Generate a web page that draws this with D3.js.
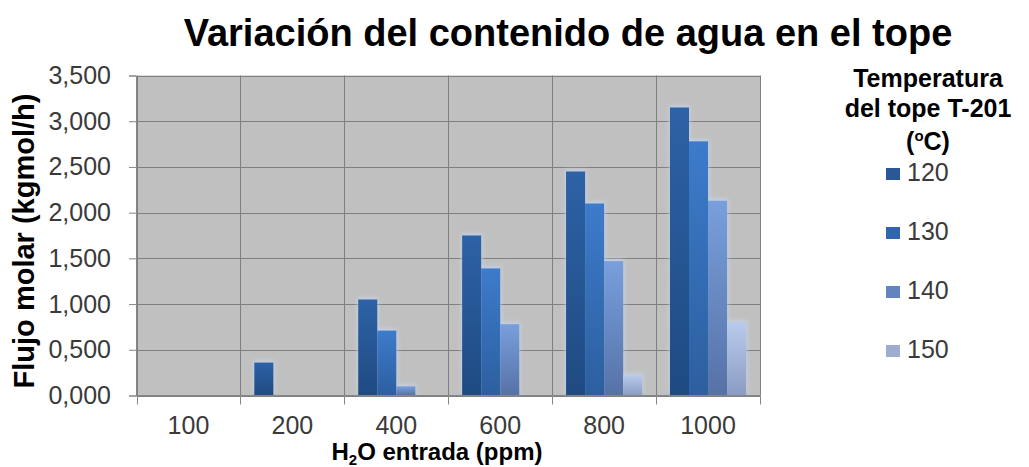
<!DOCTYPE html>
<html>
<head>
<meta charset="utf-8">
<script src="https://cdn.jsdelivr.net/npm/d3@7"></script>
<style>
  html, body { margin: 0; padding: 0; background: #ffffff; }
  svg { display: block; font-family: "Liberation Sans", Arial, sans-serif; }
</style>
</head>
<body>
<svg id="chart" width="1029" height="467"></svg>
<script>
// H2O inlet content (ppm) on the x axis
const categories = ["100", "200", "400", "600", "800", "1000"];
// Top temperature of column T-201 (°C), one series each
const seriesNames = ["120", "130", "140", "150"];
const flow120 = [0, 0.36, 1.05, 1.75, 2.45, 3.15];
const flow130 = [0, 0, 0.71, 1.39, 2.10, 2.78];
const flow140 = [0, 0, 0.10, 0.78, 1.47, 2.13];
const flow150 = [0, 0, 0, 0, 0.22, 0.80];
const yTicks = [0, 0.5, 1, 1.5, 2, 2.5, 3, 3.5];

const seriesValues = [flow120, flow130, flow140, flow150];
const rows = categories.map((c, i) => ({
  cat: c,
  vals: seriesNames.map((s, j) => ({ key: s, value: seriesValues[j][i] }))
}));

// Bar shading: top colour, bottom colour, legend swatch colour
const shades = {
  "120": ["#2d62a6", "#1f4a82", "#2a5796"],
  "130": ["#3d7bcb", "#2c5f9f", "#3066b0"],
  "140": ["#789fdc", "#5672a7", "#6384bf"],
  "150": ["#b8cbec", "#8a9cc2", "#9cadd0"]
};

const svg = d3.select("#chart");
const plot = { left: 136.5, right: 760, top: 75.5, bottom: 395.5 };

const x0 = d3.scaleBand().domain(categories).range([plot.left, plot.right]).padding(0);
const x1 = d3.scaleBand().domain(seriesNames).range([0, x0.bandwidth()])
  .paddingInner(0).paddingOuter(0.73);
const y = d3.scaleLinear().domain([0, 3.5]).range([plot.bottom, plot.top]);

const locale = d3.formatLocale({ decimal: ",", thousands: ".", grouping: [3], currency: ["", ""] });
const fmt = locale.format(".3f");

// gradients
const defs = svg.append("defs");
seriesNames.forEach(s => {
  const g = defs.append("linearGradient").attr("id", "grad" + s)
    .attr("x1", 0).attr("y1", 0).attr("x2", 0).attr("y2", 1);
  g.append("stop").attr("offset", "0%").attr("stop-color", shades[s][0]);
  g.append("stop").attr("offset", "100%").attr("stop-color", shades[s][1]);
});
defs.append("filter").attr("id", "glow").attr("x", "-50%").attr("y", "-50%")
  .attr("width", "200%").attr("height", "200%")
  .append("feGaussianBlur").attr("stdDeviation", 2.2);

// plot background
svg.append("rect")
  .attr("x", plot.left).attr("y", plot.top)
  .attr("width", plot.right - plot.left).attr("height", plot.bottom - plot.top)
  .attr("fill", "#c0c0c0");

// horizontal gridlines
svg.append("g").selectAll("line").data(yTicks).join("line")
  .attr("x1", plot.left).attr("x2", plot.right)
  .attr("y1", d => Math.round(y(d)) + 0.5).attr("y2", d => Math.round(y(d)) + 0.5)
  .attr("stroke", "#7f7f7f").attr("stroke-width", 1);

// vertical gridlines at category boundaries
const bounds = categories.map(c => x0(c)).concat([plot.right]);
svg.append("g").selectAll("line").data(bounds).join("line")
  .attr("x1", d => Math.round(d) + 0.5).attr("x2", d => Math.round(d) + 0.5)
  .attr("y1", plot.top).attr("y2", plot.bottom)
  .attr("stroke", "#7f7f7f").attr("stroke-width", 1);

// bars
const groups = svg.append("g").selectAll("g").data(rows).join("g")
  .attr("transform", d => `translate(${x0(d.cat)},0)`);

groups.selectAll("rect.glow").data(d => d.vals.filter(v => v.value > 0)).join("rect")
  .attr("class", "glow")
  .attr("x", d => x1(d.key) - 1)
  .attr("y", d => y(d.value) - 2)
  .attr("width", x1.bandwidth() + 2)
  .attr("height", d => plot.bottom - y(d.value))
  .attr("fill", "#c8dcf6")
  .attr("opacity", 0.6)
  .attr("filter", "url(#glow)");

groups.selectAll("rect.bar").data(d => d.vals).join("rect")
  .attr("class", "bar")
  .attr("x", d => x1(d.key))
  .attr("y", d => y(d.value))
  .attr("width", x1.bandwidth())
  .attr("height", d => plot.bottom - y(d.value))
  .attr("fill", d => `url(#grad${d.key})`);

// y axis
const yAxis = d3.axisLeft(y).tickValues(yTicks).tickFormat(fmt).tickSize(7).tickPadding(18);
const gy = svg.append("g").attr("transform", `translate(${plot.left - 0.5},0)`).call(yAxis);
gy.select(".domain").attr("stroke", "#868686");
gy.selectAll(".tick line").attr("stroke", "#868686");
gy.selectAll(".tick text")
  .attr("font-size", 25).attr("fill", "#3a3a3a")
  .attr("font-family", "Liberation Sans, Arial, sans-serif");

// x axis: ticks on category boundaries, labels centred in bands
svg.append("line")
  .attr("x1", plot.left).attr("x2", plot.right)
  .attr("y1", plot.bottom).attr("y2", plot.bottom)
  .attr("stroke", "#868686");
svg.append("g").selectAll("line").data(bounds).join("line")
  .attr("x1", d => Math.round(d) + 0.5).attr("x2", d => Math.round(d) + 0.5)
  .attr("y1", plot.bottom).attr("y2", plot.bottom + 9)
  .attr("stroke", "#868686");
svg.append("g").selectAll("text").data(categories).join("text")
  .attr("x", d => x0(d) + x0.bandwidth() / 2)
  .attr("y", 434)
  .attr("text-anchor", "middle")
  .attr("font-size", 25)
  .attr("fill", "#3a3a3a")
  .text(d => d);

// title
svg.append("text")
  .attr("x", 568).attr("y", 46)
  .attr("text-anchor", "middle")
  .attr("font-size", 38).attr("font-weight", "bold").attr("fill", "#000")
  .text("Variación del contenido de agua en el tope");

// axis titles
svg.append("text")
  .attr("transform", "translate(34,241) rotate(-90)")
  .attr("text-anchor", "middle")
  .attr("font-size", 29).attr("font-weight", "bold").attr("fill", "#000")
  .text("Flujo molar (kgmol/h)");

const xt = svg.append("text")
  .attr("x", 437).attr("y", 460)
  .attr("text-anchor", "middle")
  .attr("font-size", 24).attr("font-weight", "bold").attr("fill", "#000");
xt.append("tspan").text("H");
xt.append("tspan").attr("font-size", 15).attr("dy", 5).text("2");
xt.append("tspan").attr("dy", -5).text("O entrada (ppm)");

// legend
const legTitle = svg.append("g").attr("font-size", 25).attr("font-weight", "bold")
  .attr("fill", "#000").attr("text-anchor", "middle");
legTitle.append("text").attr("x", 928).attr("y", 87).text("Temperatura");
legTitle.append("text").attr("x", 928).attr("y", 117).text("del tope T-201");
const unit = legTitle.append("text").attr("x", 928).attr("y", 150);
unit.append("tspan").text("(");
unit.append("tspan").attr("font-size", 15).attr("dy", -9).text("o");
unit.append("tspan").attr("dy", 9).text("C)");

const legendY = d3.scalePoint().domain(seriesNames).range([174, 351]);
const items = svg.append("g").selectAll("g").data(seriesNames).join("g")
  .attr("transform", d => `translate(886,${legendY(d)})`);
items.append("rect")
  .attr("x", 0).attr("y", -6).attr("width", 14).attr("height", 12)
  .attr("fill", d => shades[d][2]);
items.append("text")
  .attr("x", 21).attr("y", 7)
  .attr("font-size", 25).attr("fill", "#3a3a3a")
  .text(d => d);
</script>
</body>
</html>
